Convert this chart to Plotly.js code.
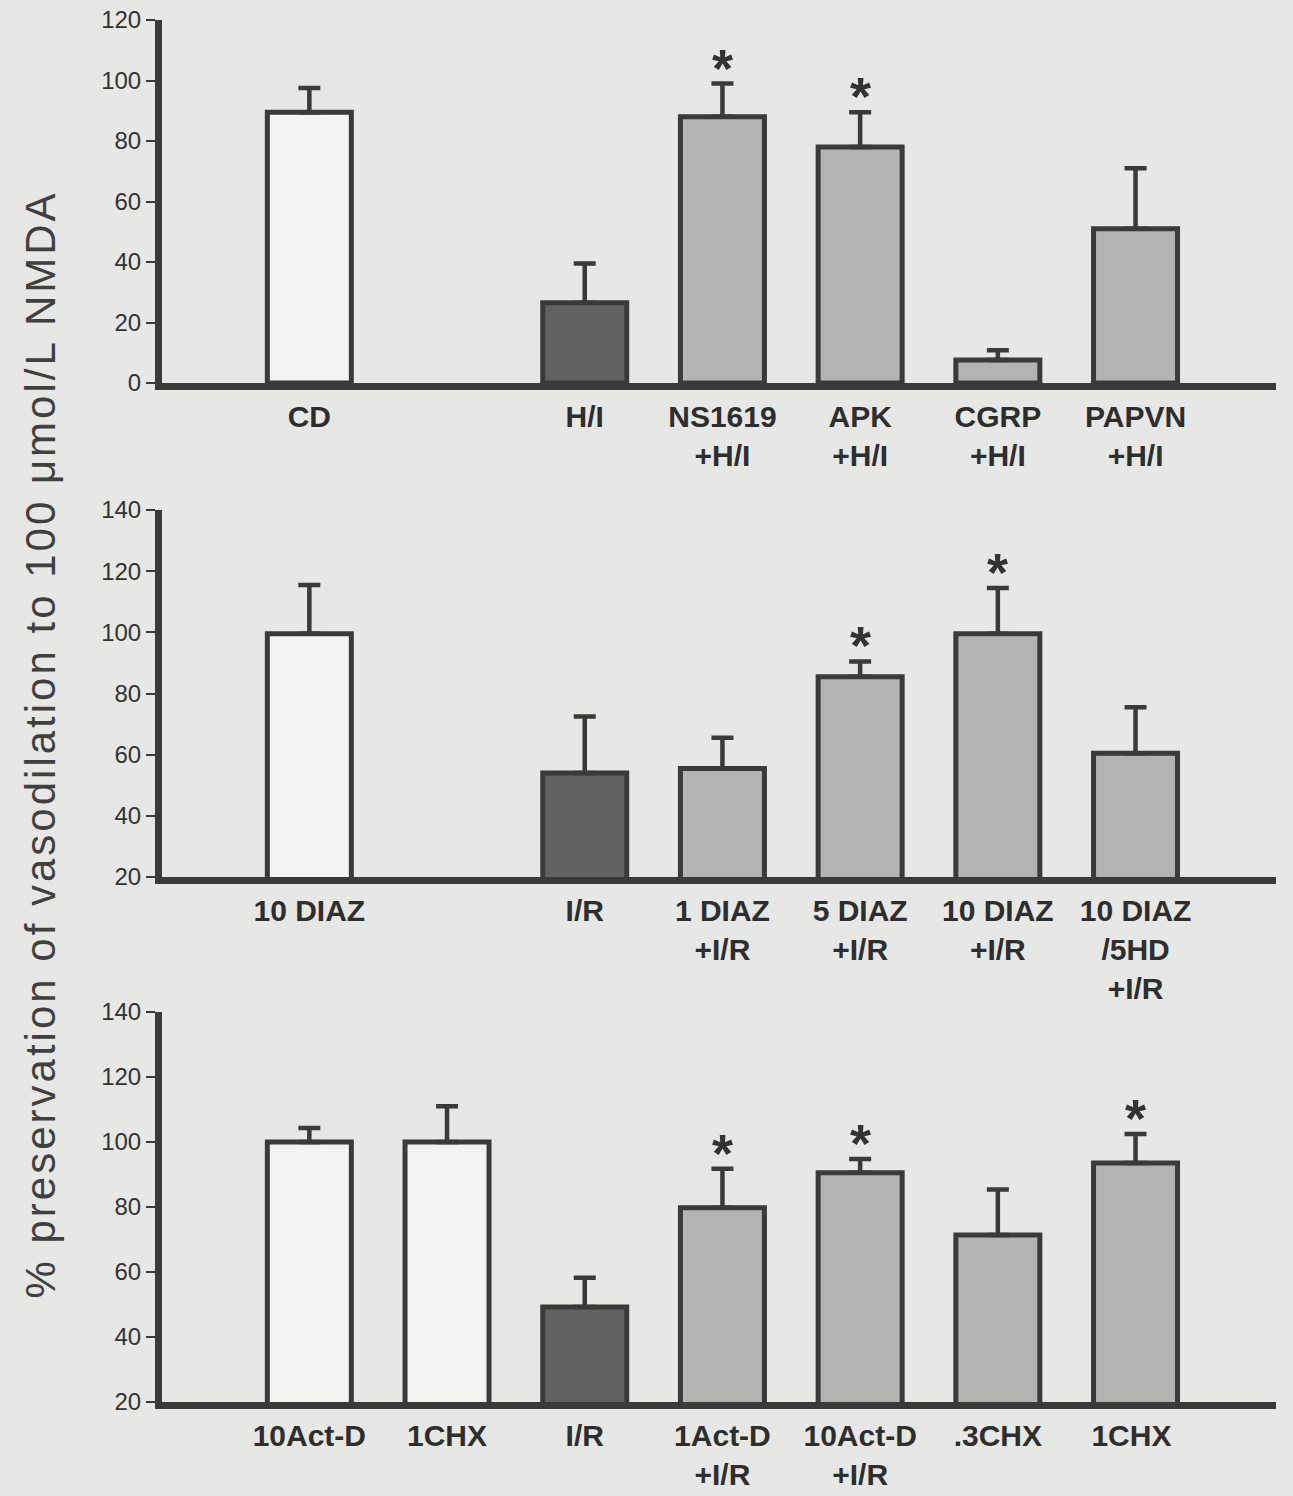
<!DOCTYPE html>
<html>
<head>
<meta charset="utf-8">
<script src="https://cdn.plot.ly/plotly-3.0.1.min.js"></script>
<style>
  html, body { margin: 0; padding: 0; background: #e7e7e5; }
  #chart { width: 1293px; height: 1496px; }
  g.annotation[data-index="7"] text { letter-spacing: 3px; }
</style>
</head>
<body>
<div id="chart"></div>
<script>
// ---- Panel 1 data ----
const cats1 = ['CD', ' ', 'H/I', 'NS1619<br>+H/I', 'APK<br>+H/I', 'CGRP<br>+H/I', 'PAPVN<br>+H/I'];
const vals1 = [89.5, null, 26.5, 88, 78, 7.6, 51];
const errs1 = [8, null, 13, 11, 11.5, 3.2, 20];
const type1 = ['ctrl', null, 'injury', 'treat', 'treat', 'treat', 'treat'];
const sig1 = [false, false, false, true, true, false, false];

// ---- Panel 2 data ----
const cats2 = ['10 DIAZ', '  ', 'I/R', '1 DIAZ<br>+I/R', '5 DIAZ<br>+I/R', '10 DIAZ<br>+I/R', '10 DIAZ<br>/5HD<br>+I/R'];
const vals2 = [99.5, null, 54, 55.5, 85.5, 99.5, 60.5];
const errs2 = [16, null, 18.5, 10, 5, 15, 15];
const type2 = ['ctrl', null, 'injury', 'treat', 'treat', 'treat', 'treat'];
const sig2 = [false, false, false, false, true, true, false];

// ---- Panel 3 data ----
const cats3 = ['10Act-D', '1CHX', 'I/R', '1Act-D<br>+I/R', '10Act-D<br>+I/R', '.3CHX', '1CHX '];
const vals3 = [100, 100, 49.2, 79.8, 90.5, 71.4, 93.5];
const errs3 = [4.3, 11, 9, 12, 4.3, 14, 9];
const type3 = ['ctrl', 'ctrl', 'injury', 'treat', 'treat', 'treat', 'treat'];
const sig3 = [false, false, false, true, true, false, true];

const yTitle = '% preservation of vasodilation to 100 \u03bcmol/L NMDA';

const fills = { ctrl: '#f3f3f1', injury: '#626262', treat: '#b3b3b1' };
const edge = '#3a3a3a';
const FONT = 'Arial, Liberation Sans, sans-serif';

function barTrace(cats, vals, errs, types, ax) {
  return {
    type: 'bar',
    x: cats,
    y: vals,
    xaxis: 'x' + (ax === 1 ? '' : ax),
    yaxis: 'y' + (ax === 1 ? '' : ax),
    width: 0.61,
    marker: {
      color: types.map(t => t ? fills[t] : 'rgba(0,0,0,0)'),
      line: { color: edge, width: 5 }
    },
    error_y: {
      type: 'data', symmetric: false,
      array: errs, arrayminus: errs.map(() => 0),
      color: edge, thickness: 4.5, width: 11
    },
    hoverinfo: 'skip',
    showlegend: false
  };
}

const traces = [
  barTrace(cats1, vals1, errs1, type1, 1),
  barTrace(cats2, vals2, errs2, type2, 2),
  barTrace(cats3, vals3, errs3, type3, 3)
];

const H = 1496;
function dom(top, bottom) { return [1 - bottom / H, 1 - top / H]; }

function xax(cats, anchor) {
  return {
    type: 'category',
    categoryorder: 'array',
    categoryarray: cats,
    range: [-1.07, 7.02],
    anchor: anchor,
    showline: true,
    linecolor: edge,
    linewidth: 7,
    showgrid: false,
    zeroline: false,
    ticks: 'outside',
    ticklen: 1,
    tickcolor: 'rgba(0,0,0,0)',
    tickfont: { family: FONT, size: 30, color: '#2e2e2e', weight: 'bold' },
    fixedrange: true
  };
}
function yax(range, dtick, domain, anchor) {
  return {
    range: range,
    domain: domain,
    anchor: anchor,
    dtick: dtick,
    tick0: range[0],
    showline: true,
    linecolor: edge,
    linewidth: 7,
    showgrid: false,
    zeroline: false,
    ticks: 'outside',
    ticklen: 9,
    tickwidth: 2,
    tickcolor: edge,
    tickfont: { family: FONT, size: 24, color: '#333' },
    fixedrange: true
  };
}

const annotations = [];
function addStars(cats, vals, errs, sig, ax) {
  const s = ax === 1 ? '' : ax;
  cats.forEach((c, i) => {
    if (sig[i]) {
      annotations.push({
        xref: 'x' + s, yref: 'y' + s,
        x: c, y: vals[i] + errs[i],
        text: '*', showarrow: false,
        yanchor: 'bottom', yshift: -16,
        font: { family: FONT, size: 54, color: '#333', weight: 'bold' }
      });
    }
  });
}
addStars(cats1, vals1, errs1, sig1, 1);
addStars(cats2, vals2, errs2, sig2, 2);
addStars(cats3, vals3, errs3, sig3, 3);

annotations.push({
  xref: 'paper', yref: 'paper',
  x: (40 - 162) / 1114, y: 1 - 745 / H,
  xanchor: 'center', yanchor: 'middle',
  text: yTitle, textangle: -90, showarrow: false,
  font: { family: FONT, size: 42, color: '#404040' }
});

const layout = {
  width: 1293, height: 1496,
  margin: { l: 162, r: 17, t: 0, b: 0, autoexpand: false },
  paper_bgcolor: '#e7e7e5',
  plot_bgcolor: 'rgba(0,0,0,0)',
  xaxis: xax(cats1, 'y'),
  xaxis2: xax(cats2, 'y2'),
  xaxis3: xax(cats3, 'y3'),
  yaxis: yax([0, 120], 20, dom(20, 383), 'x'),
  yaxis2: yax([20, 140], 20, dom(510, 877), 'x2'),
  yaxis3: yax([20, 140], 20, dom(1012, 1402), 'x3'),
  annotations: annotations,
  showlegend: false
};

Plotly.newPlot('chart', traces, layout, { displayModeBar: false, staticPlot: true });
</script>
</body>
</html>
